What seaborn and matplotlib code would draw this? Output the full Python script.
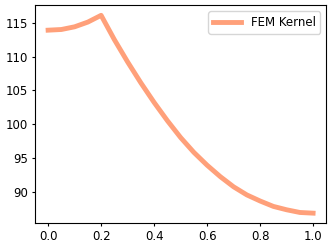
import matplotlib

matplotlib.use("Agg")
import matplotlib.pyplot as plt
import pandas as pd
import seaborn as sns

# values
x_vals = [0.00, 0.05, 0.10, 0.15, 0.20, 0.25, 0.30, 0.35, 0.40, 0.45, 0.50,
          0.55, 0.60, 0.65, 0.70, 0.75, 0.80, 0.85, 0.90, 0.95, 1.00]
fem_kernel = [113.9, 114.0, 114.4, 115.1, 116.1, 112.5, 109.2, 106.1, 103.2,
              100.5, 98.0, 95.8, 93.9, 92.2, 90.7, 89.5, 88.6, 87.8, 87.3,
              86.9, 86.8]
series_name = "FEM Kernel"

df = pd.DataFrame({"x": x_vals, "y": fem_kernel, "series": series_name})

plt.rcParams["font.family"] = ["DejaVu Sans"]
plt.rcParams["font.size"] = 8.5

fig, ax = plt.subplots(figsize=(3.32, 2.47), dpi=100)
sns.lineplot(
    data=df,
    x="x",
    y="y",
    hue="series",
    palette=["#FFA07A"],
    linewidth=3.5,
    ax=ax,
)
ax.set_xlabel("")
ax.set_ylabel("")
ax.set_xticks([0.0, 0.2, 0.4, 0.6, 0.8, 1.0])
ax.set_yticks([90, 95, 100, 105, 110, 115])
ax.tick_params(labelsize=8.5, length=2.5, pad=2.5)
ax.legend(loc="upper right", fontsize=8.5, handlelength=2.4)

fig.subplots_adjust(left=0.105, right=0.983, bottom=0.097, top=0.978)
fig.savefig("out.png", dpi=100)
